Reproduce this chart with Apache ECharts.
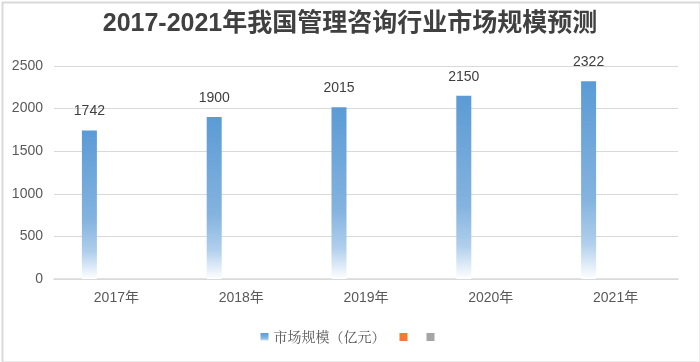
<!DOCTYPE html>
<html>
<head>
<meta charset="utf-8">
<script src="https://cdn.jsdelivr.net/npm/echarts@6/dist/echarts.min.js"></script>
<style>
html,body{margin:0;padding:0;background:#fff;}
#c{width:700px;height:362px;}
</style>
</head>
<body>
<div id="c"></div>
<script>
const categories = ['2017年','2018年','2019年','2020年','2021年'];
const marketSize = [1742, 1900, 2015, 2150, 2322];
const series2 = [null, null, null, null, null];
const series3 = [null, null, null, null, null];
const seriesNames = ['市场规模（亿元）', '\u200b', '\u200b\u200b'];
const yTicks = [0, 500, 1000, 1500, 2000, 2500];

const chart = echarts.init(document.getElementById('c'), null, {renderer: 'canvas'});
const font = '"Liberation Sans", "Noto Sans CJK SC", sans-serif';
chart.setOption({
  animation: false,
  backgroundColor: '#fff',
  graphic: [{
    type: 'rect', left: 0, top: 0,
    shape: {x: 1, y: 1, width: 698, height: 360},
    style: {fill: 'none', stroke: '#d9d9d9', lineWidth: 2}
  }],
  title: {
    text: '2017-2021年我国管理咨询行业市场规模预测',
    left: 'center', top: 7,
    textStyle: {fontFamily: font, fontSize: 25, fontWeight: 'bold', color: '#404040'}
  },
  grid: {left: 54, right: 22, top: 66, bottom: 83, containLabel: false},
  legend: {
    bottom: 13, left: 'center',
    itemWidth: 8, itemHeight: 8, itemGap: 14,
    icon: 'rect',
    textStyle: {fontFamily: '"Noto Serif CJK SC", "Noto Sans CJK SC", serif', fontSize: 14, color: '#595959'},
    data: seriesNames
  },
  xAxis: {
    type: 'category', data: categories,
    axisLine: {lineStyle: {color: '#d9d9d9', width: 1.5}},
    axisTick: {show: false},
    axisLabel: {fontFamily: font, fontSize: 14, color: '#595959', margin: 12}
  },
  yAxis: {
    type: 'value', min: 0, max: yTicks[yTicks.length-1], interval: 500,
    axisLine: {show: false}, axisTick: {show: false},
    axisLabel: {fontFamily: font, fontSize: 14, color: '#595959', margin: 11, formatter: v => String(v)},
    splitLine: {lineStyle: {color: '#d9d9d9', width: 1}}
  },
  series: [
    {
      name: seriesNames[0], type: 'bar', data: marketSize, barWidth: 15, barGap: '80%',
      itemStyle: {
        color: new echarts.graphic.LinearGradient(0, 0, 0, 1, [
          {offset: 0, color: '#5b9bd5'},
          {offset: 0.6, color: '#84b3df'},
          {offset: 0.82, color: '#b0cfec'},
          {offset: 1, color: '#ffffff'}
        ])
      },
      label: {show: true, position: 'top', distance: 12, fontFamily: font, fontSize: 14, color: '#404040'}
    },
    {name: seriesNames[1], type: 'bar', data: series2, barWidth: 15, itemStyle: {color: '#ed7d31'}},
    {name: seriesNames[2], type: 'bar', data: series3, barWidth: 15, itemStyle: {color: '#a5a5a5'}}
  ]
});
</script>
</body>
</html>
